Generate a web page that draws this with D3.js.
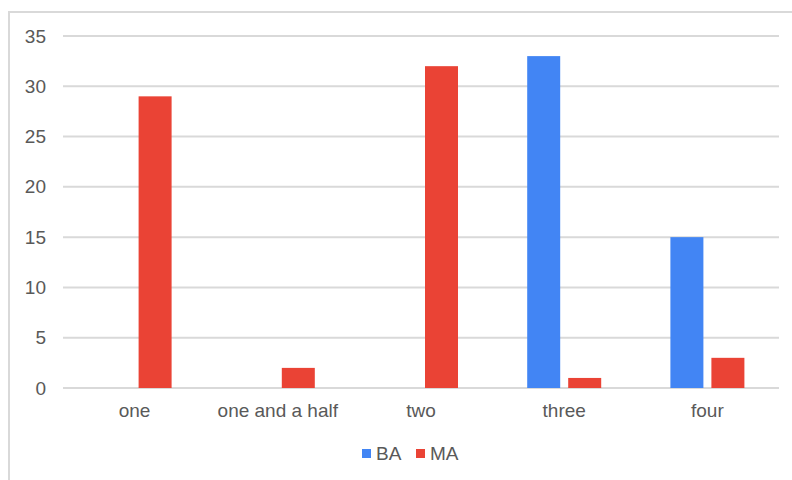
<!DOCTYPE html>
<html>
<head>
<meta charset="utf-8">
<script src="https://cdn.jsdelivr.net/npm/d3@7"></script>
<style>
  html, body { margin: 0; padding: 0; background: #fff; }
  svg { display: block; font-family: "Liberation Sans", Arial, sans-serif; }
</style>
</head>
<body>
<svg id="chart" width="792" height="480"></svg>
<script>
const categories = ["one", "one and a half", "two", "three", "four"];
const seriesNames = ["BA", "MA"];
const baValues = [0, 0, 0, 33, 15];
const maValues = [29, 2, 32, 1, 3];
const yTicks = [0, 5, 10, 15, 20, 25, 30, 35];
const colors = ["#4285F4", "#EA4335"];

const svg = d3.select("#chart");
const W = 792, H = 480;
const plot = { left: 63, right: 779, top: 36, bottom: 388 };

// outer border (only top and left visible)
svg.append("path")
  .attr("d", `M9,${H} L9,12 L${W},12`)
  .attr("fill", "none")
  .attr("stroke", "#d9d9d9")
  .attr("stroke-width", 2);

const x = d3.scaleBand().domain(categories).range([plot.left, plot.right]).paddingInner(0).paddingOuter(0);
const y = d3.scaleLinear().domain([0, 35]).range([plot.bottom, plot.top]);
const groupW = 74;
const xs = d3.scaleBand().domain(seriesNames)
  .range([x.bandwidth() / 2 - groupW / 2, x.bandwidth() / 2 + groupW / 2])
  .paddingInner(8 / 41).paddingOuter(0);

// gridlines
svg.append("g").selectAll("line").data(yTicks).join("line")
  .attr("x1", plot.left).attr("x2", plot.right)
  .attr("y1", d => y(d)).attr("y2", d => y(d))
  .attr("stroke", "#d9d9d9").attr("stroke-width", 2);

// y tick labels
svg.append("g").selectAll("text").data(yTicks).join("text")
  .attr("x", 46).attr("y", d => y(d))
  .attr("text-anchor", "end").attr("dominant-baseline", "central")
  .attr("font-size", 19).attr("fill", "#595959")
  .text(d => d);

// bars
const rows = categories.map((c, i) => ({ cat: c, vals: [baValues[i], maValues[i]] }));
const g = svg.append("g");
rows.forEach(r => {
  seriesNames.forEach((s, j) => {
    const v = r.vals[j];
    if (v <= 0) return;
    g.append("rect")
      .attr("x", x(r.cat) + xs(s))
      .attr("y", y(v))
      .attr("width", xs.bandwidth())
      .attr("height", y(0) - y(v))
      .attr("fill", colors[j]);
  });
});

// category labels
svg.append("g").selectAll("text").data(categories).join("text")
  .attr("x", d => x(d) + x.bandwidth() / 2)
  .attr("y", 417)
  .attr("text-anchor", "middle")
  .attr("font-size", 19).attr("fill", "#595959")
  .text(d => d);

// legend
const legend = svg.append("g");
const legendItems = [{ name: "BA", x: 362 }, { name: "MA", x: 416 }];
legendItems.forEach((it, j) => {
  legend.append("rect").attr("x", it.x).attr("y", 449).attr("width", 9).attr("height", 9).attr("fill", colors[j]);
  legend.append("text").attr("x", it.x + 14).attr("y", 460)
    .attr("font-size", 19).attr("fill", "#595959").text(it.name);
});
</script>
</body>
</html>
